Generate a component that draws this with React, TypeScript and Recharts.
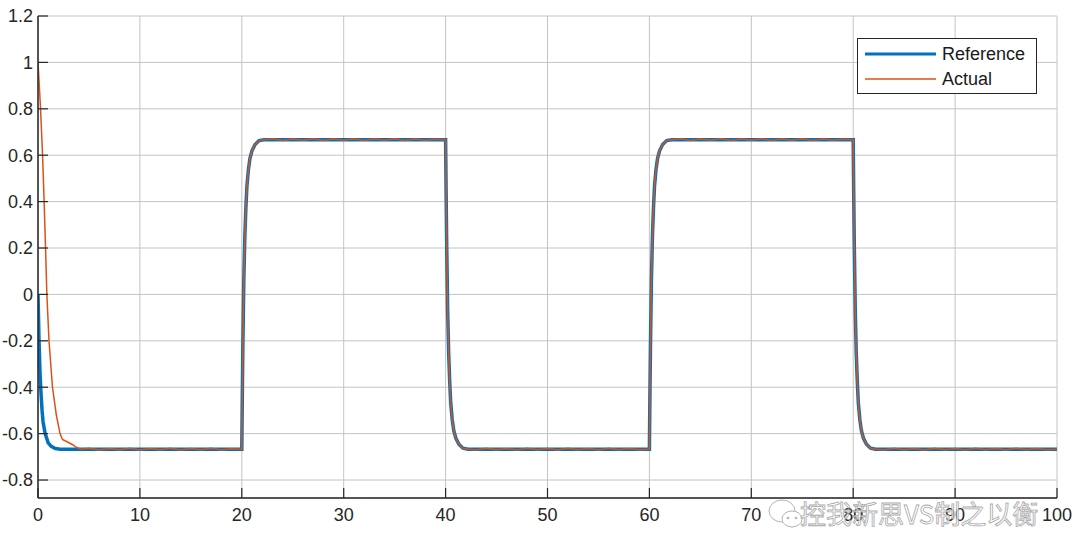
import React from 'react';
import { LineChart, Line, XAxis, YAxis, CartesianGrid, Legend } from 'recharts';

// ---- data ----
const refT = [
  0, 0.1, 0.2, 0.3, 0.4, 0.5, 0.7, 1.0, 1.3, 1.7, 2.2,
  20, 20.05, 20.1, 20.2, 20.3, 20.4, 20.5, 20.65, 20.8, 21, 21.3, 21.7, 22.2,
  40, 40.05, 40.1, 40.2, 40.3, 40.4, 40.5, 40.65, 40.8, 41, 41.3, 41.7, 42.2,
  60, 60.05, 60.1, 60.2, 60.3, 60.4, 60.5, 60.65, 60.8, 61, 61.3, 61.7, 62.2,
  80, 80.05, 80.1, 80.2, 80.3, 80.4, 80.5, 80.65, 80.8, 81, 81.3, 81.7, 82.2,
  100,
];
const refV = [
  0, -0.2, -0.34, -0.43, -0.5, -0.55, -0.6, -0.64, -0.655, -0.664, -0.667,
  -0.667, -0.44, -0.24, 0.066, 0.253, 0.373, 0.466, 0.539, 0.586, 0.619, 0.646, 0.663, 0.667,
  0.667, 0.44, 0.24, -0.066, -0.253, -0.373, -0.466, -0.539, -0.586, -0.619, -0.646, -0.663, -0.667,
  -0.667, -0.44, -0.24, 0.066, 0.253, 0.373, 0.466, 0.539, 0.586, 0.619, 0.646, 0.663, 0.667,
  0.667, 0.44, 0.24, -0.066, -0.253, -0.373, -0.466, -0.539, -0.586, -0.619, -0.646, -0.663, -0.667,
  -0.667,
];

const actT = [
  0, 0.25, 0.45, 0.6, 0.74, 0.87, 1.08, 1.42, 1.8, 2.16, 2.4, 2.9, 3.4, 3.8, 4.2,
  5, 6, 7, 8, 9, 10, 11, 12, 13, 14, 15, 16, 17, 18, 19,
  20, 20.05, 20.1, 20.2, 20.3, 20.4, 20.5, 20.65, 20.8, 21, 21.3, 21.7, 22.2,
  23, 24, 25, 26, 27, 28, 29, 30, 31, 32, 33, 34, 35, 36, 37, 38, 39,
  40, 40.05, 40.1, 40.2, 40.3, 40.4, 40.5, 40.65, 40.8, 41, 41.3, 41.7, 42.2,
  43, 44, 45, 46, 47, 48, 49, 50, 51, 52, 53, 54, 55, 56, 57, 58, 59,
  60, 60.05, 60.1, 60.2, 60.3, 60.4, 60.5, 60.65, 60.8, 61, 61.3, 61.7, 62.2,
  63, 64, 65, 66, 67, 68, 69, 70, 71, 72, 73, 74, 75, 76, 77, 78, 79,
  80, 80.05, 80.1, 80.2, 80.3, 80.4, 80.5, 80.65, 80.8, 81, 81.3, 81.7, 82.2,
  83, 84, 85, 86, 87, 88, 89, 90, 91, 92, 93, 94, 95, 96, 97, 98, 99, 100,
];
const actV = [
  1, 0.8, 0.6, 0.4, 0.2, 0, -0.2, -0.4, -0.52, -0.6, -0.625, -0.636, -0.648, -0.66, -0.667,
  -0.663, -0.671, -0.664, -0.67, -0.663, -0.671, -0.664, -0.67, -0.663, -0.671, -0.664, -0.67, -0.663, -0.671, -0.665,
  -0.667, -0.44, -0.24, 0.066, 0.253, 0.373, 0.466, 0.539, 0.586, 0.619, 0.646, 0.663, 0.667,
  0.671, 0.663, 0.67, 0.664, 0.671, 0.663, 0.67, 0.664, 0.671, 0.663, 0.67, 0.664, 0.671, 0.663, 0.67, 0.664, 0.669,
  0.667, 0.44, 0.24, -0.066, -0.253, -0.373, -0.466, -0.539, -0.586, -0.619, -0.646, -0.663, -0.667,
  -0.671, -0.663, -0.67, -0.664, -0.671, -0.663, -0.67, -0.664, -0.671, -0.663, -0.67, -0.664, -0.671, -0.663, -0.67, -0.664, -0.669,
  -0.667, -0.44, -0.24, 0.066, 0.253, 0.373, 0.466, 0.539, 0.586, 0.619, 0.646, 0.663, 0.667,
  0.671, 0.663, 0.67, 0.664, 0.671, 0.663, 0.67, 0.664, 0.671, 0.663, 0.67, 0.664, 0.671, 0.663, 0.67, 0.664, 0.669,
  0.667, 0.44, 0.24, -0.066, -0.253, -0.373, -0.466, -0.539, -0.586, -0.619, -0.646, -0.663, -0.667,
  -0.671, -0.663, -0.67, -0.664, -0.671, -0.663, -0.67, -0.664, -0.671, -0.663, -0.67, -0.664, -0.671, -0.663, -0.67, -0.664, -0.669, -0.667,
];

const xTicks = [0, 10, 20, 30, 40, 50, 60, 70, 80, 90, 100];
const yTicks = [-0.8, -0.6, -0.4, -0.2, 0, 0.2, 0.4, 0.6, 0.8, 1, 1.2];
const seriesNames = ['Reference', 'Actual'];
const watermarkText = '控我新思VS制之以衡';

// ---- styling ----
const W = 1080;
const H = 558;
const FONT = '"Liberation Sans", Arial, sans-serif';
const FS = 18;
const AXIS_COLOR = '#262626';
const GRID_COLOR = '#c4c4c4';
const BLUE = '#0072BD';
const ORANGE = '#D95319';
const seriesColors = [BLUE, ORANGE];
const seriesWidths = [3.5, 1.5];
const TICK_LEN = 10;

const refData = refT.map((t, i) => ({ t, v: refV[i] }));
const actData = actT.map((t, i) => ({ t, v: actV[i] }));

const LeftTick = (props: any) => {
  const { x, y, payload } = props;
  return (
    <g>
      <line x1={x} x2={x + TICK_LEN} y1={y} y2={y} stroke={AXIS_COLOR} strokeWidth={1.2} />
      <text x={x - 5} y={y} dy="0.35em" textAnchor="end" fontFamily={FONT} fontSize={FS} fill={AXIS_COLOR}>
        {String(payload.value)}
      </text>
    </g>
  );
};
const RightTick = (props: any) => {
  const { x, y } = props;
  return <line x1={x - TICK_LEN} x2={x} y1={y} y2={y} stroke={AXIS_COLOR} strokeWidth={1.2} />;
};
const BottomTick = (props: any) => {
  const { x, y, payload } = props;
  return (
    <g>
      <line x1={x} x2={x} y1={y - TICK_LEN} y2={y} stroke={AXIS_COLOR} strokeWidth={1.2} />
      <text x={x} y={y + 23} textAnchor="middle" fontFamily={FONT} fontSize={FS} fill={AXIS_COLOR}>
        {String(payload.value)}
      </text>
    </g>
  );
};
const TopTick = (props: any) => {
  const { x, y } = props;
  return <line x1={x} x2={x} y1={y} y2={y + TICK_LEN} stroke={AXIS_COLOR} strokeWidth={1.2} />;
};

const LegendContent = () => (
  <svg width={180} height={56} style={{ display: 'block' }}>
    <rect x={0.5} y={0.5} width={179} height={55} fill="#ffffff" stroke={AXIS_COLOR} strokeWidth={1} />
    {seriesNames.map((name, i) => (
      <g key={name}>
        <line
          x1={8}
          x2={79}
          y1={16 + i * 25}
          y2={16 + i * 25}
          stroke={seriesColors[i]}
          strokeWidth={i === 0 ? 3 : 1.5}
        />
        <text x={85} y={16 + i * 25} dy="0.35em" fontFamily={FONT} fontSize={FS} fill="#1a1a1a">
          {name}
        </text>
      </g>
    ))}
  </svg>
);

export default function App() {
  return (
    <div style={{ position: 'absolute', left: 0, top: 0, width: W, height: H, background: '#ffffff' }}>
      <LineChart width={W} height={H} margin={{ top: 16, right: 23, bottom: 0, left: 0 }}>
        <CartesianGrid xAxisId="bottom" yAxisId="left" stroke={GRID_COLOR} strokeWidth={1} />
        <XAxis
          xAxisId="bottom"
          dataKey="t"
          type="number"
          domain={[0, 100]}
          ticks={xTicks}
          interval={0}
          allowDataOverflow
          height={60}
          tickSize={0}
          tickMargin={0}
          tickLine={false}
          axisLine={{ stroke: AXIS_COLOR, strokeWidth: 1.5 }}
          tick={<BottomTick />}
        />
        <XAxis
          xAxisId="top"
          orientation="top"
          dataKey="t"
          type="number"
          domain={[0, 100]}
          ticks={xTicks}
          interval={0}
          allowDataOverflow
          height={0}
          tickSize={0}
          tickMargin={0}
          tickLine={false}
          axisLine={{ stroke: AXIS_COLOR, strokeWidth: 1.5 }}
          tick={<TopTick />}
        />
        <YAxis
          yAxisId="left"
          type="number"
          domain={[-0.8775, 1.2]}
          ticks={yTicks}
          interval={0}
          allowDataOverflow
          width={38}
          tickSize={0}
          tickMargin={0}
          tickLine={false}
          axisLine={{ stroke: AXIS_COLOR, strokeWidth: 1.5 }}
          tick={<LeftTick />}
        />
        <YAxis
          yAxisId="right"
          orientation="right"
          type="number"
          domain={[-0.8775, 1.2]}
          ticks={yTicks}
          interval={0}
          allowDataOverflow
          width={0}
          tickSize={0}
          tickMargin={0}
          tickLine={false}
          axisLine={{ stroke: AXIS_COLOR, strokeWidth: 1.5 }}
          tick={<RightTick />}
        />
        <Line
          data={refData}
          dataKey="v"
          name={seriesNames[0]}
          xAxisId="bottom"
          yAxisId="left"
          type="linear"
          stroke={seriesColors[0]}
          strokeWidth={seriesWidths[0]}
          dot={false}
          activeDot={false}
          isAnimationActive={false}
        />
        <Line
          data={actData}
          dataKey="v"
          name={seriesNames[1]}
          xAxisId="bottom"
          yAxisId="left"
          type="linear"
          stroke={seriesColors[1]}
          strokeWidth={seriesWidths[1]}
          dot={false}
          activeDot={false}
          isAnimationActive={false}
        />
        <Legend
          layout="vertical"
          align="center"
          verticalAlign="middle"
          content={<LegendContent />}
          wrapperStyle={{ left: 857, top: 38, width: 180, height: 56 }}
        />
      </LineChart>
      <svg
        width={W}
        height={H}
        style={{ position: 'absolute', left: 0, top: 0, pointerEvents: 'none' }}
      >
        <g opacity={0.85}>
          <ellipse cx={782} cy={511} rx={13} ry={11} fill="#ffffff" stroke="#a8a8a8" strokeWidth={1} />
          <ellipse cx={792} cy={519} rx={10} ry={8} fill="#ffffff" stroke="#a8a8a8" strokeWidth={1} />
          <circle cx={788} cy={518} r={1.3} fill="#a8a8a8" />
          <circle cx={796} cy={518} r={1.3} fill="#a8a8a8" />
          <text
            x={800}
            y={524}
            fontFamily='"Noto Sans CJK SC", sans-serif'
            fontSize={26}
            fill="#ffffff"
            stroke="#9a9a9a"
            strokeWidth={0.8}
          >
            {watermarkText}
          </text>
        </g>
      </svg>
    </div>
  );
}
